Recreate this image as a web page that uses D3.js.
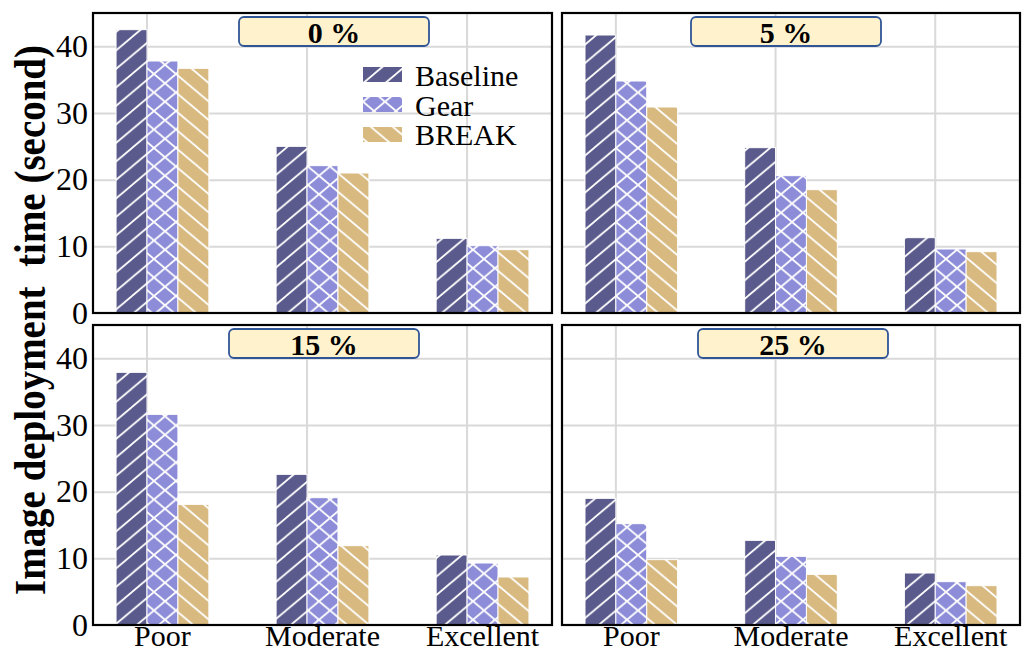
<!DOCTYPE html>
<html>
<head>
<meta charset="utf-8">
<script src="https://cdn.jsdelivr.net/npm/d3@7"></script>
<style>
  body { margin: 0; background: #fff; }
  text { font-family: "Liberation Serif", "Times New Roman", serif; }
</style>
</head>
<body>
<div id="container"></div>
<script>
// data
const categories = ["Poor", "Moderate", "Excellent"];
const seriesNames = ["Baseline", "Gear", "BREAK"];
const panelTitles = ["0 %", "5 %", "15 %", "25 %"];
const yTicks = [0, 10, 20, 30, 40];

const baseline0 = [42.5, 25.0, 11.2];
const gear0 = [37.8, 22.1, 10.1];
const break0 = [36.7, 21.0, 9.5];

const baseline5 = [41.7, 24.8, 11.3];
const gear5 = [34.8, 20.6, 9.6];
const break5 = [30.9, 18.5, 9.2];

const baseline15 = [37.9, 22.6, 10.5];
const gear15 = [31.6, 19.1, 9.3];
const break15 = [18.1, 11.9, 7.2];

const baseline25 = [19.0, 12.7, 7.8];
const gear25 = [15.2, 10.3, 6.5];
const break25 = [9.8, 7.6, 5.9];

const panelData = [
  [baseline0, gear0, break0],
  [baseline5, gear5, break5],
  [baseline15, gear15, break15],
  [baseline25, gear25, break25]
];

const colors = ["#5a5a8c", "#8c8cd8", "#d8b97f"];
const hatches = ["fwd", "cross", "back"];

const w = 1025;
const h = 654;
const svg = d3.select("#container")
  .append("svg")
  .attr("width", w)
  .attr("height", h);

// hatch patterns
const defs = svg.append("defs");
const pw = 22, ph = 18.5;
seriesNames.forEach((s, i) => {
  const p = defs.append("pattern")
    .attr("id", "hatch" + i)
    .attr("patternUnits", "userSpaceOnUse")
    .attr("width", pw)
    .attr("height", ph);
  p.append("rect").attr("width", pw).attr("height", ph).attr("fill", colors[i]);
  let d = "";
  if (hatches[i] == "fwd" || hatches[i] == "cross") {
    d += `M0,${ph} L${pw},0 M-2,2 L2,-2 M${pw - 2},${ph + 2} L${pw + 2},${ph - 2} `;
  }
  if (hatches[i] == "back" || hatches[i] == "cross") {
    d += `M0,0 L${pw},${ph} M-2,${ph - 2} L2,${ph + 2} M${pw - 2},-2 L${pw + 2},2`;
  }
  p.append("path").attr("d", d)
    .attr("stroke", "#fff")
    .attr("stroke-width", 1.8)
    .attr("fill", "none");
});

const cols = [[93, 552], [562, 1020]];
const rows = [[13, 313], [325, 625]];
const titleOffsets = [146, 129, 136, 136];

panelData.forEach((series, pi) => {
  const col = pi % 2;
  const row = Math.floor(pi / 2);
  const [x0, x1] = cols[col];
  const [y0, y1] = rows[row];

  const xScale = d3.scaleBand()
    .domain(categories)
    .range([x0, x1])
    .paddingInner(0.42)
    .paddingOuter(0.144);
  const barW = xScale.bandwidth() / 3;

  const yScale = d3.scaleLinear()
    .domain([0, 45])
    .range([y1, y0]);

  const g = svg.append("g");

  // horizontal grid
  g.append("g")
    .attr("transform", "translate(" + x0 + ",0)")
    .call(d3.axisLeft(yScale).tickValues([10, 20, 30, 40]).tickSize(-(x1 - x0)).tickFormat(""))
    .call(a => a.select(".domain").remove())
    .selectAll("line")
    .attr("stroke", "#d9d9d9")
    .attr("stroke-width", 2);

  // vertical grid
  g.selectAll(".vgrid")
    .data(categories)
    .enter()
    .append("line")
    .attr("x1", (d) => xScale(d) + barW)
    .attr("x2", (d) => xScale(d) + barW)
    .attr("y1", y0)
    .attr("y2", y1)
    .attr("stroke", "#d9d9d9")
    .attr("stroke-width", 2);

  // bars
  series.forEach((vals, si) => {
    g.selectAll(".bar" + si)
      .data(vals)
      .enter()
      .append("rect")
      .attr("x", (d, i) => xScale(categories[i]) + si * barW)
      .attr("y", (d) => yScale(d))
      .attr("width", barW)
      .attr("height", (d) => y1 - yScale(d))
      .attr("fill", "url(#hatch" + si + ")")
      .attr("stroke", "#fff")
      .attr("stroke-width", 1);
  });

  // frame
  g.append("rect")
    .attr("x", x0)
    .attr("y", y0)
    .attr("width", x1 - x0)
    .attr("height", y1 - y0)
    .attr("fill", "none")
    .attr("stroke", "#000")
    .attr("stroke-width", 2.2);

  // title box
  const bx = x0 + titleOffsets[pi];
  const by = y0 + 4;
  g.append("rect")
    .attr("x", bx)
    .attr("y", by)
    .attr("width", 190)
    .attr("height", 29)
    .attr("rx", 5)
    .attr("fill", "#fff2cc")
    .attr("stroke", "#2f5597")
    .attr("stroke-width", 1.8);
  g.append("text")
    .attr("x", bx + 95)
    .attr("y", by + 26)
    .attr("text-anchor", "middle")
    .attr("font-weight", "bold")
    .attr("font-size", 30)
    .text(panelTitles[pi]);

  // y tick labels on left column
  if (col == 0) {
    g.append("g")
      .attr("transform", "translate(" + (x0 - 2) + ",0)")
      .call(d3.axisLeft(yScale).tickValues(yTicks).tickSize(0).tickPadding(3))
      .call(a => a.select(".domain").remove())
      .selectAll("text")
      .attr("font-family", "Liberation Serif")
      .attr("font-size", 32)
      .attr("fill", "#000");
  }

  // x labels on bottom row
  if (row == 1) {
    g.append("g")
      .attr("transform", "translate(0," + y1 + ")")
      .call(d3.axisBottom(xScale).tickSize(0).tickPadding(0))
      .call(a => a.select(".domain").remove())
      .selectAll("text")
      .attr("font-family", "Liberation Serif")
      .attr("font-size", 30)
      .attr("fill", "#000")
      .attr("y", 0)
      .attr("dy", 21);
  }
});

// legend
const legend = svg.append("g");
seriesNames.forEach((s, i) => {
  legend.append("rect")
    .attr("x", 363)
    .attr("y", 67 + i * 30)
    .attr("width", 39)
    .attr("height", 15)
    .attr("fill", "url(#hatch" + i + ")");
  legend.append("text")
    .attr("x", 415)
    .attr("y", 86 + i * 29.5)
    .attr("font-size", 30)
    .text(s);
});

// y axis title
svg.append("text")
  .attr("transform", "translate(45,320) scale(1.16,1) rotate(-90)")
  .attr("text-anchor", "middle")
  .attr("font-weight", "bold")
  .attr("font-size", 39)
  .style("white-space", "pre")
  .text("Image deployment  time (second)");
</script>
</body>
</html>
